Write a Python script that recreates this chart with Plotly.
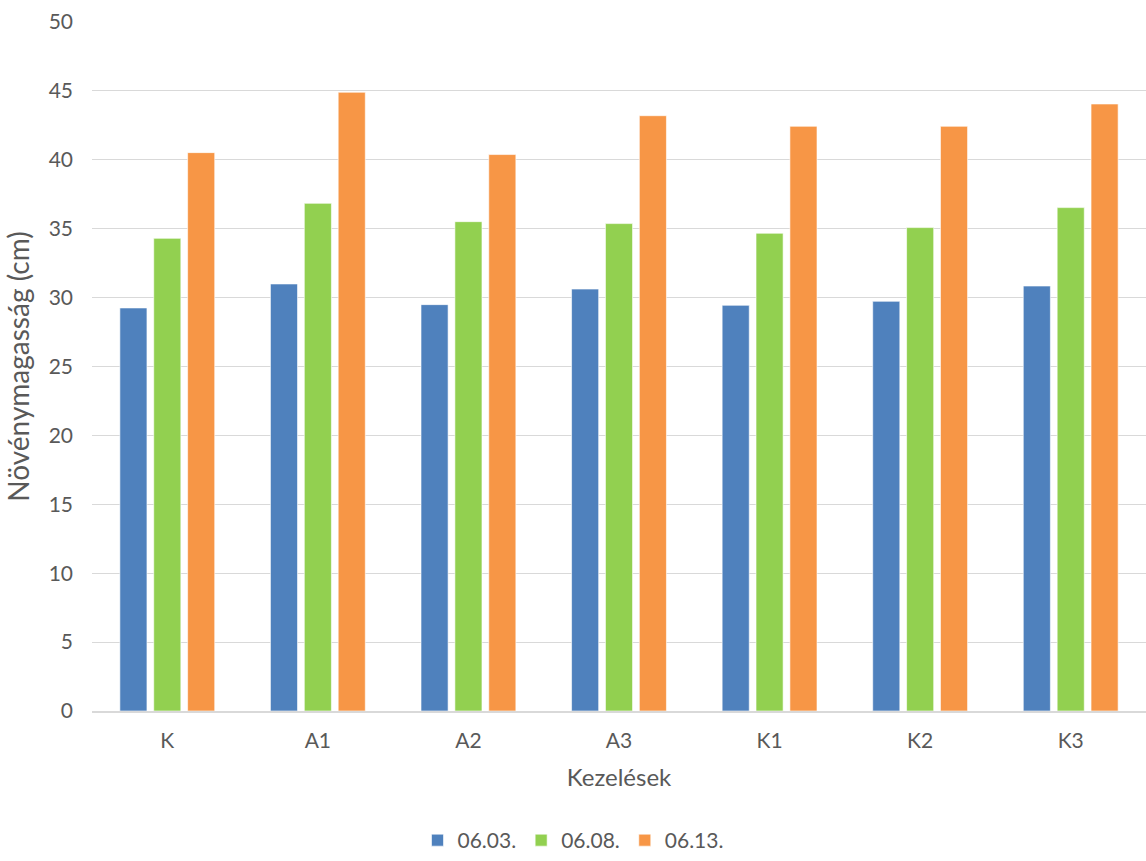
import plotly.graph_objects as go

categories = ["K", "A1", "A2", "A3", "K1", "K2", "K3"]
series_names = ["06.03.", "06.08.", "06.13."]
h_0603 = [29.25, 30.99, 29.49, 30.62, 29.44, 29.73, 30.84]
h_0608 = [34.30, 36.84, 35.51, 35.37, 34.67, 35.08, 36.53]
h_0613 = [40.52, 44.90, 40.38, 43.20, 42.43, 42.43, 44.05]
colors = ["#4F81BD", "#92D050", "#F79646"]

FONT = "Lato, Carlito, Calibri, sans-serif"
GREY = "#595959"

fig = go.Figure()
for name, vals, col in zip(series_names, [h_0603, h_0608, h_0613], colors):
    fig.add_trace(go.Bar(
        x=categories, y=vals, name=name,
        marker=dict(color=col, line=dict(color="rgba(255,255,255,0.6)", width=1)),
    ))

fig.update_layout(
    width=1146, height=861,
    margin=dict(l=92, r=0, t=22, b=150),
    paper_bgcolor="white", plot_bgcolor="white",
    barmode="group", bargap=0.325, bargroupgap=0.2,
    font=dict(family=FONT, color=GREY, size=21),
    showlegend=True,
    legend=dict(orientation="h", x=0.5, xanchor="center", xref="container",
                y=-6 / 861, yanchor="bottom", yref="container",
                font=dict(family=FONT, size=21, color=GREY), itemwidth=30,
                traceorder="normal"),
    xaxis=dict(
        title=dict(text="Kezelések", font=dict(family=FONT, size=24, color=GREY), standoff=18),
        showline=True, linecolor="#D9D9D9", linewidth=1.5,
        ticks="", tickfont=dict(family=FONT, size=21, color=GREY),
        ticklabelstandoff=10,
        showgrid=False, automargin=False,
    ),
    yaxis=dict(
        title=dict(text="Növénymagasság (cm)", font=dict(family=FONT, size=28, color=GREY), standoff=10),
        range=[0, 50], dtick=5, tick0=0,
        showgrid=True, gridcolor="#D9D9D9", gridwidth=1.3,
        zeroline=False, showline=False, ticks="",
        tickfont=dict(family=FONT, size=21, color=GREY),
        ticklabelstandoff=18, automargin=False,
    ),
)

fig.write_html("out.html")
